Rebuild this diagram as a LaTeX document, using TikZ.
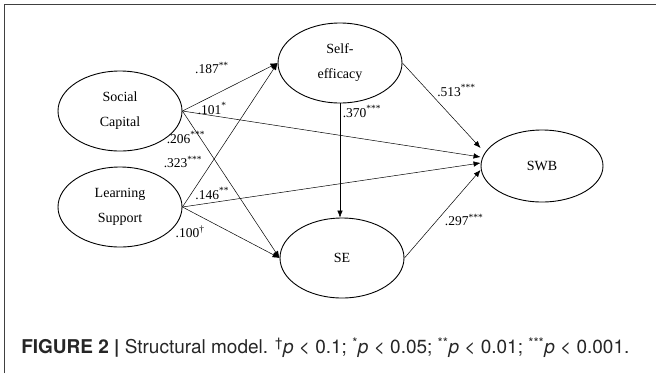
\documentclass[tikz,border=0pt]{standalone}
\usepackage{fontspec}
\setmainfont{Liberation Serif}
\newfontfamily\capfont{TeX Gyre Heros}
\usetikzlibrary{arrows.meta,shapes.geometric}

\begin{document}
\begin{tikzpicture}[->,>={Latex[length=7pt,width=5.5pt]},x=1pt,y=1pt,
                    line width=0.5pt]
  \tikzstyle{latent}=[ellipse,draw=black,line width=0.9pt,minimum width=124pt,
                      minimum height=80pt,inner sep=0pt,align=center,
                      font=\fontsize{14}{25}\selectfont]
  \tikzstyle{lbl}=[inner sep=0pt,font=\fontsize{13.5}{16}\selectfont]

  \useasboundingbox (0,0) rectangle (656,-373);
  \draw[-,line width=1.2pt,draw=black!75] (4.5,-373) -- (4.5,-4.5) -- (656,-4.5);

  \node[latent]	(sc)	at (120,-111)	{Social\\Capital};
  \node[latent]	(ls)	at (120,-207)	{Learning\\Support};
  \node[latent]	(eff)	at (340,-63)	{Self-\\efficacy};
  \node[latent]	(se)	at (342,-258)	{SE};
  \node[latent,minimum width=122pt,minimum height=72pt]	(swb)	at (542,-166)	{SWB};

  \path (sc.east) edge	node[lbl,pos=0.31,yshift=28pt]	{.187\textsuperscript{**}}	(eff.west);
  \path (sc.east) edge	node[lbl,pos=0.1,yshift=7pt]	{.101\textsuperscript{*}}	([yshift=9pt]swb.west);
  \path (sc.east) edge	node[lbl,pos=0.18,xshift=-14pt]	{.206\textsuperscript{***}}	(se.west);
  \path (ls.east) edge	node[lbl,pos=0.3,xshift=-28pt,yshift=1.5pt]	{.323\textsuperscript{***}}	(eff.west);
  \path (ls.east) edge	node[lbl,pos=0.1,yshift=9pt]	{.146\textsuperscript{**}}	([yshift=3pt]swb.west);
  \path (ls.east) edge	node[lbl,pos=0.1,xshift=-2pt,yshift=-20pt]	{.100\textsuperscript{\textdagger}}	(se.west);
  \path (eff.south) edge	node[lbl,pos=0.07,xshift=22pt]	{.370\textsuperscript{***}}	(eff.south |- se.north);
  \path (eff.east) edge	node[lbl,pos=0.5,xshift=15pt,yshift=15pt]	{.513\textsuperscript{***}}	([yshift=18pt]swb.west);
  \path (se.east) edge	node[lbl,pos=0.6,xshift=14pt,yshift=-15pt]	{.297\textsuperscript{***}}	([yshift=-4pt]swb.west);

  \node[anchor=west,inner sep=0pt,text=black!85,font=\capfont\fontsize{19}{21}\selectfont]
    (cap) at (21,-348) {\textbf{FIGURE 2 |} Structural model. \textsuperscript{\textdagger}\textit{p} < 0.1; \textsuperscript{*}\textit{p} < 0.05; \textsuperscript{**}\textit{p} < 0.01; \textsuperscript{***}\textit{p} < 0.001.};
\end{tikzpicture}
\end{document}
